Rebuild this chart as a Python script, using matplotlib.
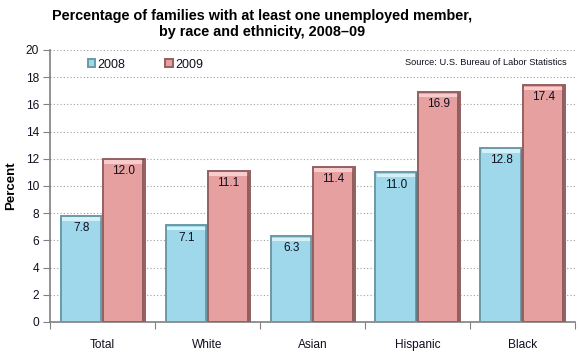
import numpy as np
import matplotlib
matplotlib.use("Agg")
import matplotlib.pyplot as plt

plt.rcParams["font.family"] = ["Liberation Sans", "DejaVu Sans"]

# data
categories = ["Total", "White", "Asian", "Hispanic", "Black"]
values_2008 = [7.8, 7.1, 6.3, 11.0, 12.8]
values_2009 = [12.0, 11.1, 11.4, 16.9, 17.4]
series_labels = ["2008", "2009"]
y_ticks = list(range(0, 21, 2))

blue, blue_edge, blue_hi, blue_dark = "#9fd8ea", "#6a9aa6", "#d4f1fa", "#4f7480"
pink, pink_edge, pink_hi, pink_dark = "#e6a0a0", "#946060", "#f6cccc", "#5a3434"
text_col = "#101020"

fig = plt.figure(figsize=(5.8, 3.6), dpi=100)
ax = fig.add_axes([50 / 580, 1 - 322 / 360, 525 / 580, 272 / 360])

x = np.arange(len(categories))
w = 0.4
bars1 = ax.bar(x - w / 2, values_2008, w, color=blue, edgecolor=blue_edge,
               linewidth=1.4, label=series_labels[0], zorder=3)
bars2 = ax.bar(x + w / 2, values_2009, w, color=pink, edgecolor=pink_edge,
               linewidth=1.4, label=series_labels[1], zorder=3)

# bevel look: light strip along the top, dark strip on the right edge
for bars, hi, dk in ((bars1, blue_hi, blue_dark), (bars2, pink_hi, pink_dark)):
    for b in bars:
        bw = b.get_width()
        ax.bar(b.get_x() + bw / 2, 0.25, bw * 0.92,
               bottom=b.get_height() - 0.35, color=hi, linewidth=0, zorder=4)
        ax.bar(b.get_x() + bw * 0.965, b.get_height() - 0.1, bw * 0.05,
               bottom=0.05, color=dk, alpha=0.6, linewidth=0, zorder=4)

for bars, vals in ((bars1, values_2008), (bars2, values_2009)):
    for b, v in zip(bars, vals):
        ax.text(b.get_x() + b.get_width() / 2, v - 0.45, f"{v:.1f}",
                ha="center", va="top", fontsize=8.5, color=text_col, zorder=5)

ax.set_xlim(-0.5, len(categories) - 0.5)
ax.set_ylim(0, 20)
ax.set_yticks(y_ticks)
ax.set_yticklabels([str(t) for t in y_ticks], fontsize=8.6, color=text_col)
ax.set_xticks(np.arange(-0.5, len(categories), 1.0))
ax.set_xticklabels([])
ax.set_xticks(x, minor=True)
ax.set_xticklabels(categories, minor=True, fontsize=8.6, color=text_col)
ax.tick_params(axis="x", which="minor", length=0, pad=12)
ax.tick_params(axis="x", which="major", length=5, color="#808080", direction="out")
ax.tick_params(axis="y", length=5, color="#808080", direction="out", pad=3)

ax.yaxis.grid(True, linestyle=(0, (1, 2)), color="#a0a0a0", linewidth=0.8, zorder=0)
for s in ("top", "right"):
    ax.spines[s].set_visible(False)
for s in ("left", "bottom"):
    ax.spines[s].set_color("#808080")
    ax.spines[s].set_linewidth(1.2)

ax.set_ylabel("Percent", fontsize=9.5, fontweight="bold", labelpad=6)

leg = ax.legend(loc="upper left", bbox_to_anchor=(0.05, 1.01), ncol=2, frameon=False,
                fontsize=9, handlelength=0.6, handleheight=0.6, columnspacing=3.2,
                handletextpad=0.2)
for t in leg.get_texts():
    t.set_color(text_col)

ax.text(0.985, 0.955, "Source: U.S. Bureau of Labor Statistics", transform=ax.transAxes,
        ha="right", va="center", fontsize=6.7, color=text_col)

fig.text(262 / 580, 1 - 24 / 360,
         "Percentage of families with at least one unemployed member,\nby race and ethnicity, 2008\u201309",
         ha="center", va="center", fontsize=10.4, fontweight="bold", linespacing=1.2)

fig.savefig("out.png", dpi=100)
